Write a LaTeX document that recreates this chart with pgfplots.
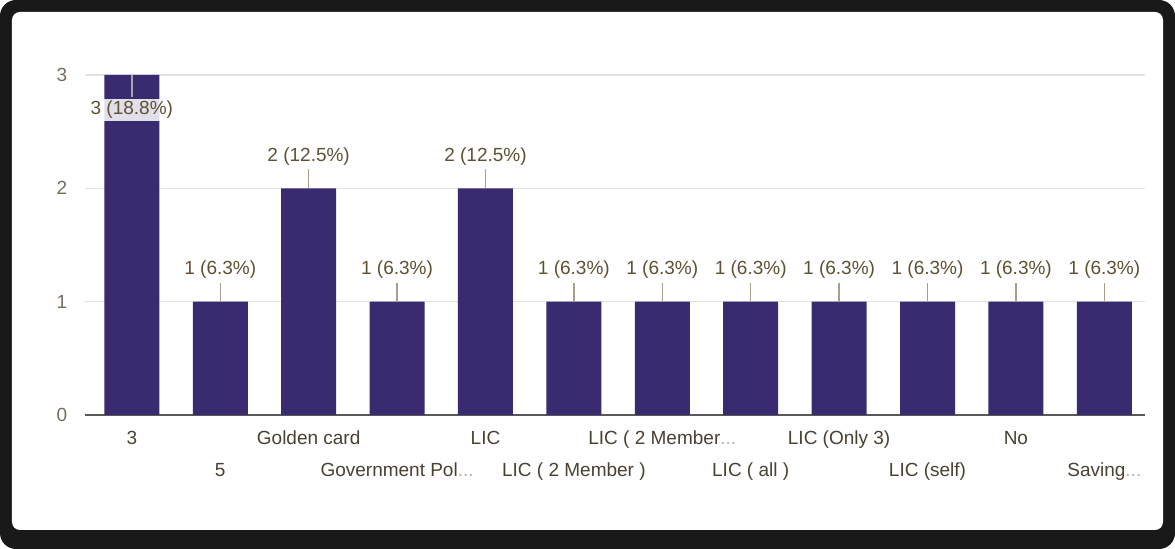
\documentclass[border=0pt]{standalone}
\usepackage{fontspec}
\setmainfont{Liberation Sans}
\usepackage{pgfplots}
\pgfplotsset{compat=1.18}

\definecolor{barcol}{RGB}{58,42,112}
\definecolor{labcol}{RGB}{95,82,52}
\definecolor{tickcol}{RGB}{75,65,50}
\definecolor{ycol}{RGB}{120,110,95}
\definecolor{gridcol}{RGB}{226,226,226}
\definecolor{leadcol}{RGB}{170,160,135}

\begin{document}
\begin{tikzpicture}
% frame
\fill[black!90, rounded corners=8pt] (-42.5pt,-67pt) rectangle (545pt,207.5pt);
\fill[white, rounded corners=4pt] (-36.5pt,-57.5pt) rectangle (539pt,201.5pt);

\begin{axis}[
    at={(0,0)}, anchor=south west,
    scale only axis,
    width=530pt, height=170pt,
    xmin=-0.53, xmax=11.46,
    ymin=0, ymax=3,
    clip=false,
    axis x line*=bottom,
    axis y line*=left,
    y axis line style={draw=none},
    x axis line style={draw=black!65, line width=0.9pt},
    major tick length=0pt,
    ytick={0,1,2,3},
    ymajorgrids,
    grid style={draw=gridcol, line width=0.7pt},
    font=\fontsize{9.5}{11}\selectfont,
    /pgf/number format/assume math mode=true,
    yticklabel style={anchor=center, xshift=-11.5pt, text=ycol},
    xtick={0,2,4,6,8,10},
    xticklabels={3, Golden card, LIC, {LIC ( 2 Member\textcolor{black!30}{...}}, LIC (Only 3), No},
    xticklabel style={anchor=center, yshift=-12.5pt, text=tickcol,
        text height=7pt, text depth=2pt},
    extra x ticks={1,3,5,7,9,11},
    extra x tick labels={5, {Government Pol\textcolor{black!30}{...}}, LIC ( 2 Member ), LIC ( all ), LIC (self), {Saving\textcolor{black!30}{...}}},
    extra x tick style={tick label style={yshift=-16pt}},
]
% bars
\addplot[ybar, bar width=27.5pt, bar shift=0pt, fill=barcol, draw=none]
    coordinates {(0,3) (1,1) (2,2) (3,1) (4,2) (5,1) (6,1) (7,1) (8,1) (9,1) (10,1) (11,1)};

% labels above bars with leader lines
\addplot[draw=none, mark=none,
    error bars/.cd, y dir=plus, y fixed=0.168,
    error mark=none, error bar style={draw=leadcol, line width=0.7pt}]
    plot[
    nodes near coords, point meta=explicit symbolic,
    every node near coord/.style={anchor=center, yshift=16pt, text=labcol,
        font=\fontsize{9.5}{11}\selectfont}]
    coordinates {
    (1,1) [1 (6.3\%)]
    (2,2) [2 (12.5\%)]
    (3,1) [1 (6.3\%)]
    (4,2) [2 (12.5\%)]
    (5,1) [1 (6.3\%)]
    (6,1) [1 (6.3\%)]
    (7,1) [1 (6.3\%)]
    (8,1) [1 (6.3\%)]
    (9,1) [1 (6.3\%)]
    (10,1) [1 (6.3\%)]
    (11,1) [1 (6.3\%)]
    };

% label inside the tallest bar
\addplot[draw=none, mark=none,
    nodes near coords, point meta=explicit symbolic,
    every node near coord/.style={anchor=center, yshift=-17.5pt, text=labcol,
        fill=white, fill opacity=0.85, text opacity=1, inner sep=1pt,
        font=\fontsize{9.5}{11}\selectfont},
    error bars/y dir=minus, error bars/y fixed=0.19,
    error bars/error mark=none,
    error bars/error bar style={draw=gray!70, line width=0.7pt}]
    coordinates {(0,3) [3 (18.8\%)]};
\end{axis}
\end{tikzpicture}
\end{document}
